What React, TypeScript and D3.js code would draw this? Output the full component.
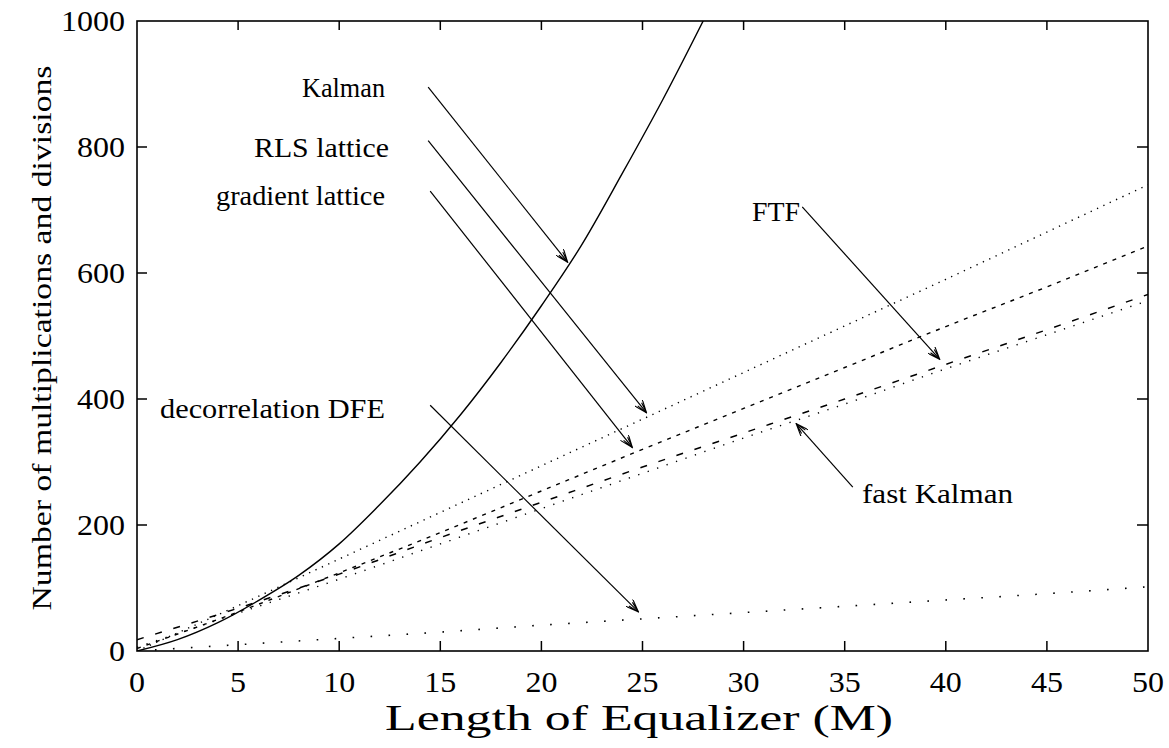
import React from "react";
import * as d3 from "d3";

// values (M -> multiplications & divisions)
const kalmanM = [0, 2, 4, 6, 8, 10, 12, 14, 16, 18, 20, 22, 24, 26, 28, 30];
const kalmanOps = [0, 18, 45, 80, 120, 170, 232, 300, 375, 458, 548, 645, 758, 875, 1000, 1130];
const rlsM = [0, 5, 10, 15, 20, 25, 30, 35, 40, 45, 50];
const rlsOps = [0, 72, 146, 220, 294, 368, 442, 516, 590, 665, 740];
const gradM = [0, 5, 10, 15, 20, 25, 30, 35, 40, 45, 50];
const gradOps = [4, 62, 124, 188, 254, 320, 385, 450, 515, 578, 643];
const ftfM = [0, 5, 10, 15, 20, 25, 30, 35, 40, 45, 50];
const ftfOps = [18, 68, 122, 180, 236, 292, 346, 400, 455, 510, 566];
const fastKalmanM = [0, 5, 10, 15, 20, 25, 30, 35, 40, 45, 50];
const fastKalmanOps = [6, 60, 114, 170, 226, 282, 338, 392, 448, 502, 556];
const dfeM = [0, 5, 10, 15, 20, 25, 30, 35, 40, 45, 50];
const dfeOps = [0, 10, 20, 30, 41, 51, 61, 71, 81, 91, 102];

const xTicks = [0, 5, 10, 15, 20, 25, 30, 35, 40, 45, 50];
const yTicks = [0, 200, 400, 600, 800, 1000];

const series = [
  { name: "Kalman", xs: kalmanM, ys: kalmanOps, dash: null, width: 1.4 },
  { name: "RLS lattice", xs: rlsM, ys: rlsOps, dash: "1.3,5.7", width: 1.4 },
  { name: "gradient lattice", xs: gradM, ys: gradOps, dash: "4,6", width: 1.4 },
  { name: "FTF", xs: ftfM, ys: ftfOps, dash: "7,12", width: 1.5 },
  { name: "fast Kalman", xs: fastKalmanM, ys: fastKalmanOps, dash: "1.3,8.7", width: 1.4 },
  { name: "decorrelation DFE", xs: dfeM, ys: dfeOps, dash: "1.6,16.4", width: 1.6 },
];

// annotation text + arrow (from/to in data units); w = printed width of the label
const notes = [
  { label: "Kalman", tx: 385, ty: 97, w: 83, anchor: "end", from: [14.4, 895], to: [21.3, 617] },
  { label: "RLS lattice", tx: 389, ty: 157, w: 135, anchor: "end", from: [14.4, 810], to: [25.2, 378] },
  { label: "gradient lattice", tx: 385, ty: 205, w: 169, anchor: "end", from: [14.5, 730], to: [24.5, 323] },
  { label: "FTF", tx: 752, ty: 221, w: 48, anchor: "start", from: [32.9, 705], to: [39.7, 463] },
  { label: "decorrelation DFE", tx: 385, ty: 418, w: 225, anchor: "end", from: [14.5, 390], to: [24.8, 62] },
  { label: "fast Kalman", tx: 862, ty: 503, w: 151, anchor: "start", from: [35.4, 260], to: [32.6, 361] },
];

const App = () => {
  const margin = { left: 137, right: 1148, top: 21, bottom: 651 };
  const x = d3.scaleLinear().domain([0, 50]).range([margin.left, margin.right]);
  const y = d3.scaleLinear().domain([0, 1000]).range([margin.bottom, margin.top]);

  const line = d3
    .line<[number, number]>()
    .x((d) => x(d[0]))
    .y((d) => y(d[1]))
    .curve(d3.curveMonotoneX);

  const font = "'Liberation Serif', 'DejaVu Serif', serif";

  return (
    <svg
      width={1169}
      height={748}
      style={{ position: "absolute", left: 0, top: 0, background: "white" }}
    >
      <defs>
        <clipPath id="plot">
          <rect x={margin.left} y={margin.top} width={margin.right - margin.left} height={margin.bottom - margin.top} />
        </clipPath>
        <marker id="head" viewBox="0 0 14 10" refX="13" refY="5" markerWidth="14" markerHeight="10" markerUnits="userSpaceOnUse" orient="auto">
          <path d="M0,0 L13,5 L0,10 M2,2.5 L13,5 L2,7.5" fill="none" stroke="black" strokeWidth={1.1} />
        </marker>
      </defs>

      {/* curves */}
      <g clipPath="url(#plot)">
        {series.map((s) => (
          <path
            key={s.name}
            d={line(s.xs.map((m, i) => [m, s.ys[i]] as [number, number])) || ""}
            fill="none"
            stroke="black"
            strokeWidth={s.width}
            strokeDasharray={s.dash || undefined}
          />
        ))}
      </g>

      {/* frame */}
      <rect
        x={margin.left}
        y={margin.top}
        width={margin.right - margin.left}
        height={margin.bottom - margin.top}
        fill="none"
        stroke="black"
        strokeWidth={1.6}
      />

      {/* inward ticks */}
      {xTicks.slice(1, -1).map((t) => (
        <g key={"xt" + t} stroke="black" strokeWidth={1.5}>
          <line x1={x(t)} x2={x(t)} y1={y(0)} y2={y(0) - 10} />
          <line x1={x(t)} x2={x(t)} y1={y(1000)} y2={y(1000) + 9} />
        </g>
      ))}
      {yTicks.slice(1, -1).map((t) => (
        <g key={"yt" + t} stroke="black" strokeWidth={1.5}>
          <line x1={x(0)} x2={x(0) + 10} y1={y(t)} y2={y(t)} />
          <line x1={x(50)} x2={x(50) - 11} y1={y(t)} y2={y(t)} />
        </g>
      ))}

      {/* tick labels */}
      {xTicks.map((t) => (
        <text
          key={"xl" + t}
          x={x(t)}
          y={y(0) + 41}
          textAnchor="middle"
          fontFamily={font}
          fontSize={29}
          textLength={String(t).length * 16}
          lengthAdjust="spacingAndGlyphs"
        >
          {t}
        </text>
      ))}
      {yTicks.map((t) => (
        <text
          key={"yl" + t}
          x={x(0) - 12}
          y={y(t) + 10}
          textAnchor="end"
          fontFamily={font}
          fontSize={29}
          textLength={String(t).length * 16}
          lengthAdjust="spacingAndGlyphs"
        >
          {t}
        </text>
      ))}

      {/* axis titles */}
      <text
        x={639}
        y={730}
        textAnchor="middle"
        fontFamily={font}
        fontSize={36}
        textLength={508}
        lengthAdjust="spacingAndGlyphs"
      >
        Length of Equalizer (M)
      </text>
      <text
        transform={`translate(51, ${(margin.top + margin.bottom) / 2 + 2}) rotate(-90)`}
        textAnchor="middle"
        fontFamily={font}
        fontSize={27}
        textLength={545}
        lengthAdjust="spacingAndGlyphs"
      >
        Number of multiplications and divisions
      </text>

      {/* annotations */}
      {notes.map((n) => (
        <g key={n.label}>
          <text
            x={n.tx}
            y={n.ty}
            textAnchor={n.anchor}
            fontFamily={font}
            fontSize={27}
            textLength={n.w}
            lengthAdjust="spacingAndGlyphs"
          >
            {n.label}
          </text>
          <line
            x1={x(n.from[0])}
            y1={y(n.from[1])}
            x2={x(n.to[0])}
            y2={y(n.to[1])}
            stroke="black"
            strokeWidth={1.2}
            markerEnd="url(#head)"
          />
        </g>
      ))}
    </svg>
  );
};

export default App;
